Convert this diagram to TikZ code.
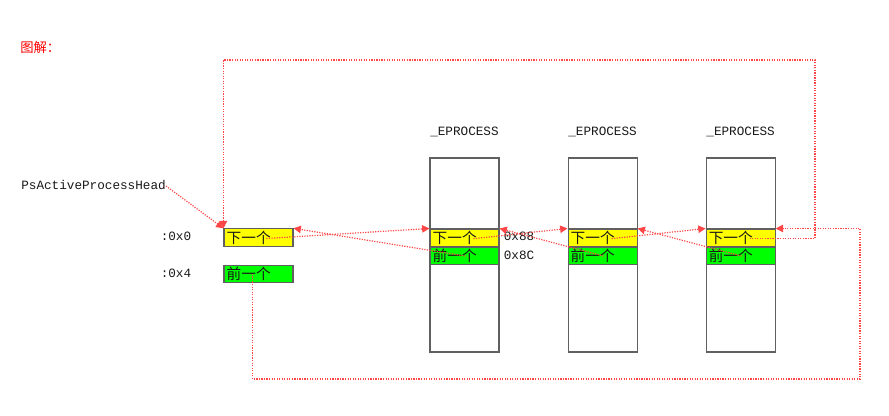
\documentclass[tikz,border=0pt]{standalone}
\usepackage{fontspec}
\setmonofont{Liberation Mono}
\newfontfamily\cjk{Noto Sans CJK SC}
\usetikzlibrary{arrows.meta,positioning,calc}
\definecolor{nextyellow}{RGB}{255,255,0}
\definecolor{prevgreen}{RGB}{0,255,0}
\definecolor{linkred}{RGB}{255,70,70}
\definecolor{framegray}{RGB}{96,96,96}
\tikzset{
  >=Triangle,
  mono/.style={font=\ttfamily\fontsize{9.5}{11}\selectfont,text=black!90,inner sep=0pt,text height=7pt,text depth=2pt},
  note/.style={font=\cjk\fontsize{10}{12}\selectfont,text=red,inner sep=0pt},
  cell/.style={draw=framegray,line width=0.8pt,minimum height=13pt,inner ysep=0pt,inner xsep=2pt,text width=47.75pt,align=left,font=\cjk\fontsize{11}{12}\selectfont,text=black!90},
  nextcell/.style={cell,fill=nextyellow},
  prevcell/.style={cell,fill=prevgreen},
  proc/.style={draw=framegray,line width=0.8pt,minimum width=51.75pt,minimum height=145.5pt,inner sep=0pt},
  link/.style={draw=linkred,densely dotted,line width=0.9pt,-{Triangle[length=5.5pt,width=5.5pt]}}
}
\begin{document}
\begin{tikzpicture}[x=0.75pt,y=-0.75pt,node distance=0pt]
\useasboundingbox (0,0) rectangle (889,416);
\node[note,anchor=west] (title) at (20,47) {图解：};
% list head
\node[nextcell] (hn) at (258.5,237.5) {下一个};
\node[prevcell,below=13.5pt of hn] (hp) {前一个};
\node[mono,left=24pt of hn] (o0) {:0x0};
\node[mono,left=24pt of hp] (o4) {:0x4};
\node[mono,anchor=east] (head) at (166,186) {PsActiveProcessHead};
% processes
\node[proc] (p1) at (464.5,255) {};
\node[proc,right=51pt of p1] (p2) {};
\node[proc,right=51pt of p2] (p3) {};
\foreach \i in {1,2,3}{
  \node[mono,above=14pt of p\i] (e\i) {\_EPROCESS};
  \node[nextcell,below=53.25pt of p\i.north] (n\i) {下一个};
  \node[prevcell,below=0pt of n\i] (b\i) {前一个};
  \coordinate (f\i) at ($(n\i.west)+(44,1)$);
  \coordinate (r\i) at ($(b\i.west)+(36,0)$);
}
\node[mono,right=3pt of n1] (off1) {0x88};
\node[mono,right=3pt of b1] (off2) {0x8C};
\coordinate (f0) at ($(hn.west)+(43,1)$);
\coordinate (r0) at ($(hp.west)+(29,0)$);
\coordinate (tr) at (815,60);
\coordinate (br) at (860,379);
% links
\draw[link] (head.east) -- (hn.north west);
\draw[link] (f0) -- (n1.north west);
\draw[link] (f1) -- (n2.north west);
\draw[link] (f2) -- (n3.north west);
\draw[link] (r1) -- (hn.north east);
\draw[link] (r2) -- (n1.north east);
\draw[link] (r3) -- (n2.north east);
\draw[link] (f3) -| (tr) -| (hn.north west);
\draw[link] (r0) |- (br) |- (n3.north east);
\end{tikzpicture}
\end{document}
